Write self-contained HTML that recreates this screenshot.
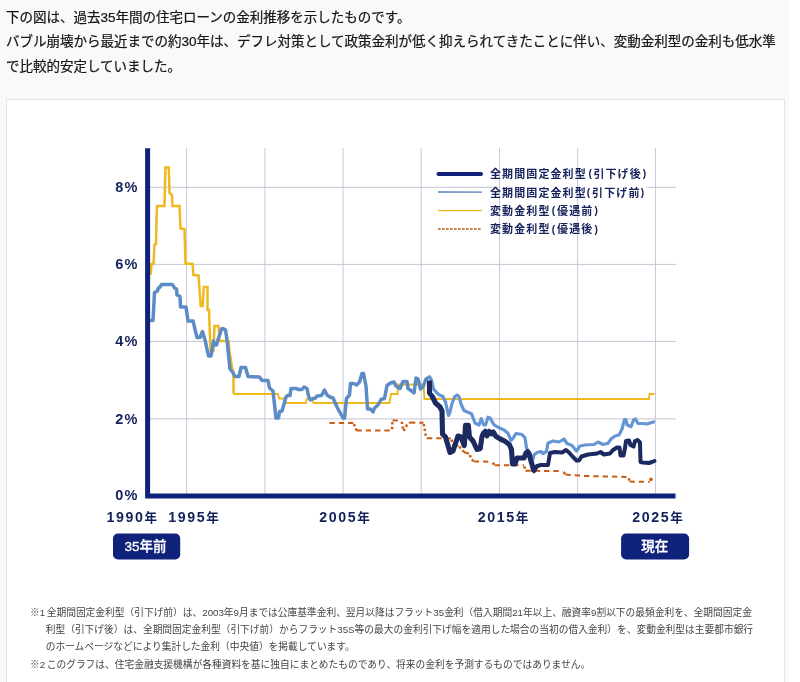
<!DOCTYPE html>
<html lang="ja">
<head>
<meta charset="utf-8">
<title>住宅ローンの金利推移</title>
<style>
html,body{margin:0;padding:0;}
body{width:800px;height:682px;overflow:hidden;background:#fff;position:relative;font-family:"Liberation Sans","Noto Sans CJK JP",sans-serif;color:#212529;}
.page{position:absolute;left:0;top:0;width:789px;height:682px;background:#f8f9fa;overflow:hidden;}
.lead{position:absolute;left:6px;top:5.7px;margin:0;font-size:13.5px;line-height:24.5px;white-space:nowrap;color:#161616;-webkit-text-stroke:.22px #161616;}
.card{position:absolute;left:6px;top:99px;width:777px;height:620px;background:#fff;border:1px solid #e1e4e8;}
.chart{position:absolute;left:0;top:0;display:block;}
.chart text{font-family:"Liberation Sans","Noto Sans CJK JP",sans-serif;}
.yl text{font-size:14.5px;font-weight:700;letter-spacing:1.1px;}
.xl text{font-size:14.2px;font-weight:700;letter-spacing:1.6px;}
.xl .k{font-size:12.6px;}
.lg text{font-size:11px;font-weight:700;letter-spacing:1.1px;}
.lg .p{font-size:10.2px;}
.bt text{font-size:13.5px;font-weight:500;stroke:#fff;stroke-width:.3px;}
.notes{position:absolute;left:23px;top:503.5px;margin:0;padding:0;list-style:none;font-size:9.72px;line-height:17px;color:#444;white-space:nowrap;word-spacing:-1.1px;}
.notes li{padding-left:15.75px;text-indent:-15.75px;}
.notes li+li{margin-top:1px;}
</style>
</head>
<body>
<div class="page">
<p class="lead">下の図は、過去35年間の住宅ローンの金利推移を示したものです。<br>バブル崩壊から最近までの約30年は、デフレ対策として政策金利が低く抑えられてきたことに伴い、変動金利型の金利も低水準<br>で比較的安定していました。</p>
<div class="card">
<svg class="chart" width="777" height="500" viewBox="7 100 777 500">
<defs><filter id="hb" x="-5%" y="-5%" width="110%" height="110%"><feGaussianBlur stdDeviation="0.55 0"/></filter></defs>
<g filter="url(#hb)">
<g stroke="#c9c9db" stroke-width="1" fill="none">
<line x1="186.6" y1="148" x2="186.6" y2="494"/>
<line x1="264.9" y1="148" x2="264.9" y2="494"/>
<line x1="343.1" y1="148" x2="343.1" y2="494"/>
<line x1="421.2" y1="148" x2="421.2" y2="494"/>
<line x1="499.5" y1="148" x2="499.5" y2="494"/>
<line x1="577.6" y1="148" x2="577.6" y2="494"/>
<line x1="655.5" y1="148" x2="655.5" y2="494"/>
</g>
<g stroke="#c4c4d4" stroke-width="1" fill="none">
<line x1="150" y1="187.3" x2="499.5" y2="187.3"/>
<line x1="646.5" y1="187.3" x2="676" y2="187.3"/>
<line x1="150" y1="264.4" x2="676" y2="264.4"/>
<line x1="150" y1="341.4" x2="676" y2="341.4"/>
<line x1="150" y1="418.9" x2="676" y2="418.9"/>
</g>
<path d="M233.6 394 L278 394 L279 398.5 L283.5 398.5 L284.5 403 L306 403 L307 399 L312.5 399 L313.5 403 L389.5 403 L391 394 L397.5 394 L398 384.5 L423.5 384.5 L424.5 399 L649 399 L649.5 394 L654.5 394" fill="none" stroke="#efb81f" stroke-width="1.9" stroke-linejoin="miter"/>
<path d="M150.5 275 L151.5 264 L153.5 264 L154.5 244.5 L156 244 L156.5 220 L157 206 L164.5 206 L165.4 167.6 L168.8 167.6 L169.5 193 L172 195 L172.5 206 L179.5 206 L180.5 228.5 L184.5 229 L185.5 263.5 L192.5 264 L193.5 275 L198.5 275.5 L200.7 306 L202.6 306 L203.8 287 L207.5 287 L207.5 310 L209 310 L210.5 351 L213.5 351 L214.5 326 L218.5 326 L219.5 341 L228.6 341 L229.3 350 L231.8 366 L233.4 373 L233.6 394" fill="none" stroke="#efb81f" stroke-width="2.5" stroke-linejoin="miter"/>
<g fill="none" stroke="#c95d12" stroke-linejoin="round">
<path d="M329.5 423 L353.5 423" stroke-width="2" stroke-dasharray="5.3 4"/>
<path d="M353.5 423 L356.5 430.5" stroke-width="2.5" stroke-dasharray="2.4 2.4" stroke-dashoffset="-1.2"/>
<path d="M356.5 430.5 L392 430.5" stroke-width="2" stroke-dasharray="5.3 4"/>
<path d="M392 430.5 L392.5 420.5" stroke-width="2.5" stroke-dasharray="2.4 2.4" stroke-dashoffset="-1.2"/>
<path d="M392.5 420.5 L401.5 420.5" stroke-width="2" stroke-dasharray="5.3 4"/>
<path d="M401.5 420.5 L403.5 431 L407 425 L410 422.6" stroke-width="2.5" stroke-dasharray="2.4 2.4" stroke-dashoffset="-1.2"/>
<path d="M410 422.6 L423.5 422.8" stroke-width="2" stroke-dasharray="5.3 4"/>
<path d="M423.5 422.8 L426 437 L427 438.2" stroke-width="2.5" stroke-dasharray="2.4 2.4" stroke-dashoffset="-1.2"/>
<path d="M427 438.2 L443 438.2 L451 438.5" stroke-width="2" stroke-dasharray="5.3 4"/>
<path d="M451 438.5 L453.5 445.5" stroke-width="2.5" stroke-dasharray="2.4 2.4" stroke-dashoffset="-1.2"/>
<path d="M453.5 445.5 L458.5 445.7" stroke-width="2" stroke-dasharray="5.3 4"/>
<path d="M458.5 445.7 L464 452" stroke-width="2.5" stroke-dasharray="2.4 2.4" stroke-dashoffset="-1.2"/>
<path d="M464 452 L469.5 454" stroke-width="2" stroke-dasharray="5.3 4"/>
<path d="M469.5 454 L471.3 459 L473.7 461.4" stroke-width="2.5" stroke-dasharray="2.4 2.4" stroke-dashoffset="-1.2"/>
<path d="M473.7 461.4 L492 461.8" stroke-width="2" stroke-dasharray="5.3 4"/>
<path d="M492 461.8 L494.7 465.2" stroke-width="2.5" stroke-dasharray="2.4 2.4" stroke-dashoffset="-1.2"/>
<path d="M494.7 465.2 L524 465.2" stroke-width="2" stroke-dasharray="5.3 4"/>
<path d="M524 465.2 L525.5 470.8" stroke-width="2.5" stroke-dasharray="2.4 2.4" stroke-dashoffset="-1.2"/>
<path d="M525.5 470.8 L563 471" stroke-width="2" stroke-dasharray="5.3 4"/>
<path d="M563 471 L565.5 474.5" stroke-width="2.5" stroke-dasharray="2.4 2.4" stroke-dashoffset="-1.2"/>
<path d="M565.5 474.5 L585 476 L628.5 477" stroke-width="2" stroke-dasharray="5.3 4"/>
<path d="M628.5 477 L629.5 481.5" stroke-width="2.5" stroke-dasharray="2.4 2.4" stroke-dashoffset="-1.2"/>
<path d="M629.5 481.5 L649.5 482" stroke-width="2" stroke-dasharray="5.3 4"/>
<path d="M649.5 482 L651 479" stroke-width="2.5" stroke-dasharray="2.4 2.4" stroke-dashoffset="-1.2"/>
</g>
<circle cx="651" cy="479.2" r="1.7" fill="#c95d12"/>
<path d="M151 320.5 L153 320.5 L154.5 292.5 L157.5 291 L158 288.5 L160 287 L161.5 284.5 L172.5 284.5 L174.5 288 L176.5 289 L177 295 L180 296.5 L180.5 307 L186 307 L188 321 L193 321 L197 337.5 L200 337.5 L202.5 331.5 L205 340 L208.5 356 L211 356 L213.5 341 L214 345 L216.5 345 L218.5 338 L220 334 L221.5 329 L223 328.5 L225.5 330 L227 340 L230 369 L232.5 372 L235 376.5 L239 376.5 L241 367.5 L245.5 367.5 L248 376.5 L259.5 377 L262 380.5 L268 380.5 L269.5 388 L273 391 L276 418 L278.5 418 L279.5 411.5 L282 411 L286 397 L287.5 395.5 L290 395.5 L291 388.5 L296.5 388.5 L298 389.5 L302 389.5 L304 387 L307 388.5 L308.5 396 L310.5 400 L313 398.5 L315.5 398 L317 396 L321.5 395.5 L324.5 390 L327 395 L330 397 L333 398 L337 407 L343 418 L344.5 418 L346.5 398.5 L349.5 395 L350.5 383.5 L353.5 383.5 L356.5 385 L359.5 382 L362 373.5 L363.5 373.5 L366 386 L367.5 409 L370.5 409 L373 412 L374.5 408 L378 405 L381 399.5 L384.5 398.5 L387 385.5 L390.5 383 L394 382 L396 386 L400 388.5 L403 381.5 L407 381.5 L408 388.5 L411 390.5 L414 393 L416 378 L418 379 L420.5 389 L423 387 L426 379 L429.5 377" fill="none" stroke="#5b8bc6" stroke-width="3.5" stroke-linejoin="round" stroke-linecap="round"/>
<path d="M429.5 377 L431.5 380 L433.5 389 L437 393 L439.5 395 L443 396.5 L445.5 402 L448.5 415.5 L450 412 L452 403.5 L454.5 397 L457 395 L459 396.5 L461 404 L464 410.5 L468 412.3 L471.5 413.7 L475 423 L479 425 L481.3 418.7 L483.7 425 L485.5 425 L488 417.2 L490.2 418.3 L494 424.8 L498.5 427.5 L504 430 L508 433.3 L511 440.3 L513 438.3 L516 433.5 L522 434.5 L525 437.8 L526.5 448 L529 452 L533 459 L534 455 L537 452.5 L541 451.5 L543 453.5 L546.5 451.5 L548 443 L553 441 L559 442 L564 439 L567 443.5 L572 445.5 L576.5 451 L580 446 L585 445 L594 444.5 L598 442 L603 444.5 L608 443.3 L611 439 L615 436 L619 435 L622 429 L624.5 419.5 L626 419.5 L627 424.7 L631 426.7 L633.5 420 L635.5 419 L638 423.5 L642 423.5 L647 424 L650 423 L653.5 422" fill="none" stroke="#6596d4" stroke-width="3.2" stroke-linejoin="round" stroke-linecap="round"/>
<path d="M534 471.3 L537 466 L541 465 L548 465 L550 453 L555 452 L562 452.5 L566 450 L569 452.5 L573 457 L576.5 460.5 L579 460.5 L581.5 456.5 L588 454.5 L597 453.5 L600.5 452 L604 454.5 L610 453.5 L613 450 L617 447.5 L619.5 447.5 L620.5 455.5 L623.5 455.5 L625 448 L626 441 L629 440.5 L630.5 445 L633.5 446.5 L635 441 L637.5 440 L640 442.5 L640.5 462 L643 462.5 L649 463 L652 462 L654.5 461" fill="none" stroke="#1a2c61" stroke-width="4" stroke-linejoin="round" stroke-linecap="round"/>
<path d="M429.5 380.4 L429.5 393 L432.3 396.5 L435.5 403 L440 407 L442 411 L442.5 434 L445.5 437 L450 452.5 L453 451 L458 436 L461 437 L464.3 445.5 L465.5 425.3 L468.3 425.3 L469.5 437 L473 441 L477 449.5 L480.3 448.5 L482 436.5 L483.5 433 L485.3 431.3 L487 435.8 L489.3 431.5 L491.5 433.8 L493.3 432 L496 436.3 L500 438.9 L505 441.3 L509.3 444.5 L511.5 449.5 L512.5 464 L515 464 L517 458 L524 458 L526 453 L527.5 451.8 L529 453.5 L530.3 458.5 L534 471.3" fill="none" stroke="#1a2c61" stroke-width="5.1" stroke-linejoin="round" stroke-linecap="butt"/>
<path d="M147.6 148.3 V496 H675.5" fill="none" stroke="#10227a" stroke-width="5" stroke-linejoin="miter"/>
</g>
<g class="yl" fill="#14205a" text-anchor="end">
<text x="138.5" y="191.9">8%</text>
<text x="138.5" y="269">6%</text>
<text x="138.5" y="346">4%</text>
<text x="138.5" y="423.5">2%</text>
<text x="138.5" y="499.8">0%</text>
</g>
<g class="xl" fill="#14205a" text-anchor="middle">
<text x="132.5" y="522">1990<tspan class="k">年</tspan></text>
<text x="194.4" y="522">1995<tspan class="k">年</tspan></text>
<text x="345.4" y="522">2005<tspan class="k">年</tspan></text>
<text x="503.8" y="522">2015<tspan class="k">年</tspan></text>
<text x="658.3" y="522">2025<tspan class="k">年</tspan></text>
</g>
<g class="lg" fill="#14205a">
<line x1="438.5" y1="174" x2="481" y2="174" stroke="#10227a" stroke-width="4" stroke-linecap="round"/>
<line x1="438" y1="192" x2="482" y2="192.1" stroke="#5582b8" stroke-width="1.4"/>
<line x1="438" y1="210.7" x2="482" y2="210.7" stroke="#efb81f" stroke-width="1.3"/>
<line x1="438" y1="229.1" x2="482" y2="229.1" stroke="#b5601e" stroke-width="1.5" stroke-dasharray="2.7 1.3"/>
<text x="490" y="178.1">全期間固定金利型<tspan class="p" dx="1.8" dy="-.7">(</tspan><tspan dx="0.3" dy=".7">引下げ後</tspan><tspan class="p" dx="0.9" dy="-.7">)</tspan></text>
<text x="490" y="196.7">全期間固定金利型<tspan class="p" dx="0" dy="-.7">(</tspan><tspan dx="0.8" dy=".7">引下げ前</tspan><tspan class="p" dx="0.3" dy="-.7">)</tspan></text>
<text x="490" y="215">変動金利型<tspan class="p" dx="1.3" dy="-.7">(</tspan><tspan dx="0.8" dy=".7">優遇前</tspan><tspan class="p" dx="1" dy="-.7">)</tspan></text>
<text x="490" y="233.3">変動金利型<tspan class="p" dx="1.3" dy="-.7">(</tspan><tspan dx="0.8" dy=".7">優遇後</tspan><tspan class="p" dx="1" dy="-.7">)</tspan></text>
</g>
<g class="bt" text-anchor="middle">
<rect x="113" y="533.6" width="67.2" height="25.8" rx="5" fill="#10237b"/>
<text x="145.4" y="551.4" fill="#fff">35年前</text>
<rect x="621.1" y="533.6" width="68" height="25.8" rx="5" fill="#10237b"/>
<text x="654.8" y="551.4" fill="#fff">現在</text>
</g>
</svg>
<ul class="notes">
<li>※1 全期間固定金利型（引下げ前）は、2003年9月までは公庫基準金利、翌月以降はフラット35金利（借入期間21年以上、融資率9割以下の最頻金利を、全期間固定金<br>利型（引下げ後）は、全期間固定金利型（引下げ前）からフラット35S等の最大の金利引下げ幅を適用した場合の当初の借入金利）を、変動金利型は主要都市銀行<br>のホームページなどにより集計した金利（中央値）を掲載しています。</li>
<li>※2 このグラフは、住宅金融支援機構が各種資料を基に独自にまとめたものであり、将来の金利を予測するものではありません。</li>
</ul>
</div>
</div>
</body>
</html>
